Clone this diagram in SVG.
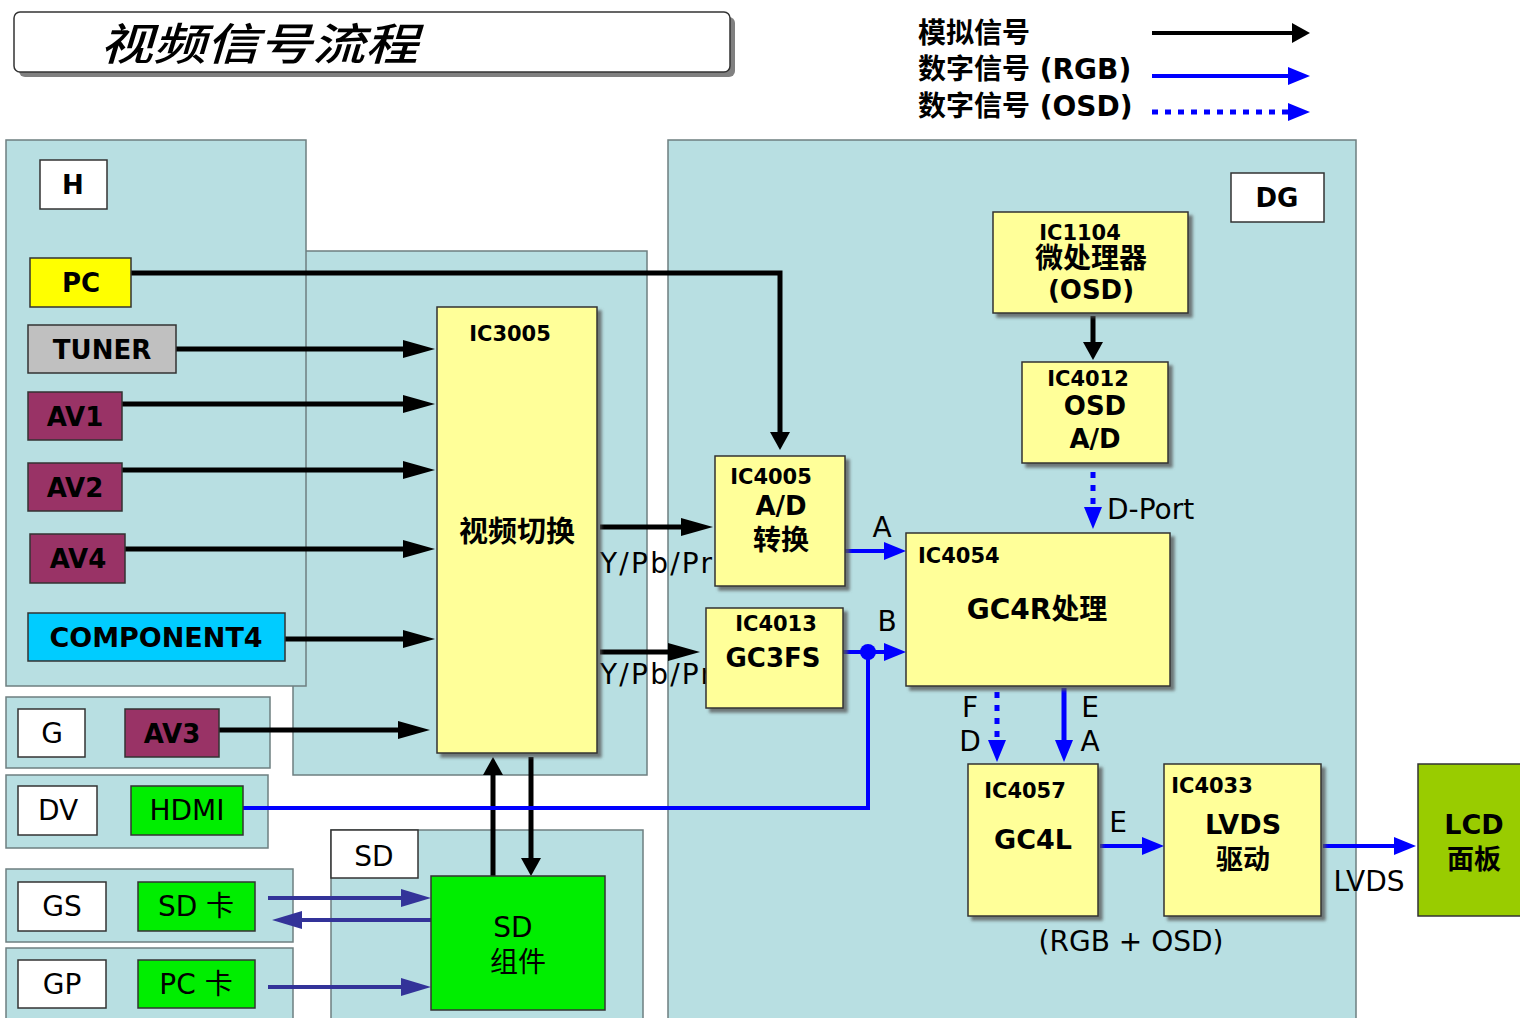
<svg xmlns="http://www.w3.org/2000/svg" width="1520" height="1018" viewBox="0 0 1520 1018">
<style>
.panel{fill:#b8dfe2;stroke:#6e7f80;stroke-width:1.5}
.box{stroke:#333;stroke-width:1.5}
.ic{fill:#ffff99;stroke:#333;stroke-width:1.5;filter:url(#sh)}
.t{font-family:"DejaVu Sans","Noto Sans CJK SC",sans-serif;font-weight:bold;text-anchor:middle;fill:#000;font-size:26px}
.n{font-weight:normal;font-size:28px}
.s{font-size:21px}
.lk{fill:none;stroke:#000;stroke-width:5}
.lb{fill:none;stroke:#0000ff;stroke-width:4}
.ld{fill:none;stroke:#0000ff;stroke-width:5;stroke-dasharray:6 7}
.ls{fill:none;stroke:#333399;stroke-width:4}
</style>
<defs>
<filter id="sh" x="-10%" y="-10%" width="130%" height="130%"><feDropShadow dx="4" dy="4" stdDeviation="1.5" flood-color="#555" flood-opacity="0.75"/></filter>
<marker id="mkL" markerUnits="userSpaceOnUse" markerWidth="32" markerHeight="18" refX="12" refY="9" orient="auto"><path d="M0,0 L32,9 L0,18 z" fill="#000"/></marker>
<marker id="mkS" markerUnits="userSpaceOnUse" markerWidth="18" markerHeight="20" refX="8" refY="10" orient="auto"><path d="M0,0 L18,10 L0,20 z" fill="#000"/></marker>
<marker id="mbl" markerUnits="userSpaceOnUse" markerWidth="22" markerHeight="18" refX="8" refY="9" orient="auto"><path d="M0,0 L22,9 L0,18 z" fill="#0000ff"/></marker>
<marker id="msd" markerUnits="userSpaceOnUse" markerWidth="30" markerHeight="18" refX="10" refY="9" orient="auto"><path d="M0,0 L30,9 L0,18 z" fill="#333399"/></marker>
</defs>
<rect width="1520" height="1018" fill="#fff"/>

<g id="title">
<rect x="19" y="17" width="716" height="60" rx="6" fill="#808080"/>
<rect x="14" y="12" width="716" height="60" rx="6" fill="#fff" stroke="#333" stroke-width="1.5"/>
<text x="100" y="60" font-family="Noto Sans CJK SC,sans-serif" font-size="44" font-weight="500" font-style="italic" textLength="318" lengthAdjust="spacingAndGlyphs">视频信号流程</text>
</g>

<g id="legend">
<text class="t" x="918" y="43" style="text-anchor:start;font-size:28px">模拟信号</text>
<text class="t" x="918" y="79" style="text-anchor:start;font-size:28px">数字信号 (RGB)</text>
<text class="t" x="918" y="116" style="text-anchor:start;font-size:28px">数字信号 (OSD)</text>
<path class="lk" d="M1152,33 H1300" style="stroke-width:4" marker-end="url(#mkS)"/>
<path class="lb" d="M1152,76 H1296" marker-end="url(#mbl)"/>
<path class="ld" d="M1152,112 H1296" marker-end="url(#mbl)"/>
</g>

<g id="panel-mid"><rect class="panel" x="293" y="251" width="354" height="524"/></g>
<g id="panel-H"><rect class="panel" x="6" y="140" width="300" height="546"/></g>
<g id="panel-G"><rect class="panel" x="6" y="697" width="264" height="71"/></g>
<g id="panel-DV"><rect class="panel" x="6" y="775" width="262" height="73"/></g>
<g id="panel-GS"><rect class="panel" x="6" y="869" width="287" height="73"/></g>
<g id="panel-GP"><rect class="panel" x="6" y="948" width="287" height="82"/></g>
<g id="panel-SD"><rect class="panel" x="331" y="830" width="312" height="200"/></g>
<g id="panel-DG"><rect class="panel" x="668" y="140" width="688" height="890"/></g>

<g id="connectors">
<path class="lk" d="M131,273 H780 V440" marker-end="url(#mkS)"/>
<path class="lk" d="M176,349 H415" marker-end="url(#mkL)"/>
<path class="lk" d="M122,404 H415" marker-end="url(#mkL)"/>
<path class="lk" d="M122,470 H415" marker-end="url(#mkL)"/>
<path class="lk" d="M125,549 H415" marker-end="url(#mkL)"/>
<path class="lk" d="M285,639 H415" marker-end="url(#mkL)"/>
<path class="lk" d="M219,730 H410" marker-end="url(#mkL)"/>
<path class="lk" d="M600,527 H693" marker-end="url(#mkL)"/>
<path class="lk" d="M600,652 H680" marker-end="url(#mkL)"/>
<path class="lk" d="M493,876 V767" marker-end="url(#mkS)"/>
<path class="lk" d="M531,757 V866" marker-end="url(#mkS)"/>
<path class="lk" d="M1093,316 V350" marker-end="url(#mkS)"/>
<path class="lb" d="M243,808 H868 V652"/>
<path class="lb" d="M845,551 H892" marker-end="url(#mbl)"/>
<path class="lb" d="M843,652 H892" marker-end="url(#mbl)"/>
<circle cx="868" cy="652" r="8" fill="#0000ff"/>
<path class="ld" d="M1093,472 V515" marker-end="url(#mbl)"/>
<path class="ld" d="M997,692 V748" marker-end="url(#mbl)"/>
<path class="lb" d="M1064,688 V748" style="stroke-width:5" marker-end="url(#mbl)"/>
<path class="lb" d="M1100,846 H1150" marker-end="url(#mbl)"/>
<path class="lb" d="M1323,846 H1402" marker-end="url(#mbl)"/>
<path class="ls" d="M268,898 H411" marker-end="url(#msd)"/>
<path class="ls" d="M431,920 H292" marker-end="url(#msd)"/>
<path class="ls" d="M268,987 H411" marker-end="url(#msd)"/>
<text class="t n" x="600" y="573" style="text-anchor:start" textLength="112" lengthAdjust="spacing">Y/Pb/Pr</text>
<text class="t n" x="600" y="684" style="text-anchor:start" textLength="112" lengthAdjust="spacing">Y/Pb/Pr</text>
<text class="t n" x="882" y="537">A</text>
<text class="t n" x="887" y="631">B</text>
<text class="t n" x="1107" y="519" style="text-anchor:start">D-Port</text>
<text class="t n" x="970" y="717">F</text>
<text class="t n" x="970" y="751">D</text>
<text class="t n" x="1090" y="717">E</text>
<text class="t n" x="1090" y="751">A</text>
<text class="t n" x="1118" y="832">E</text>
<text class="t n" x="1369" y="891">LVDS</text>
<text class="t n" x="1131" y="951">(RGB + OSD)</text>
</g>

<g id="H"><rect class="box" x="40" y="160" width="67" height="49" fill="#fff"/><text class="t" x="73" y="194">H</text></g>
<g id="PC"><rect class="box" x="30" y="258" width="101" height="49" fill="#ffff00"/><text class="t" x="81" y="292">PC</text></g>
<g id="TUNER"><rect class="box" x="28" y="325" width="148" height="48" fill="#c0c0c0"/><text class="t" x="102" y="359">TUNER</text></g>
<g id="AV1"><rect class="box" x="28" y="392" width="94" height="48" fill="#993366"/><text class="t" x="75" y="426">AV1</text></g>
<g id="AV2"><rect class="box" x="28" y="463" width="94" height="48" fill="#993366"/><text class="t" x="75" y="497">AV2</text></g>
<g id="AV4"><rect class="box" x="30" y="534" width="95" height="49" fill="#993366"/><text class="t" x="78" y="568">AV4</text></g>
<g id="COMPONENT4"><rect class="box" x="28" y="613" width="257" height="48" fill="#00ccff"/><text class="t" x="156" y="647" style="font-size:27px">COMPONENT4</text></g>
<g id="G"><rect class="box" x="18" y="709" width="67" height="48" fill="#fff"/><text class="t n" x="52" y="743">G</text></g>
<g id="AV3"><rect class="box" x="125" y="709" width="94" height="48" fill="#993366"/><text class="t" x="172" y="743">AV3</text></g>
<g id="DV"><rect class="box" x="18" y="786" width="79" height="49" fill="#fff"/><text class="t n" x="58" y="820">DV</text></g>
<g id="HDMI"><rect class="box" x="131" y="786" width="112" height="49" fill="#00ee00"/><text class="t n" x="187" y="820">HDMI</text></g>
<g id="GS"><rect class="box" x="18" y="882" width="88" height="49" fill="#fff"/><text class="t n" x="62" y="916">GS</text></g>
<g id="SDcard"><rect class="box" x="138" y="882" width="117" height="49" fill="#00ee00"/><text class="t n" x="196" y="916">SD 卡</text></g>
<g id="GP"><rect class="box" x="18" y="960" width="88" height="48" fill="#fff"/><text class="t n" x="62" y="994">GP</text></g>
<g id="PCcard"><rect class="box" x="138" y="960" width="117" height="48" fill="#00ee00"/><text class="t n" x="196" y="994">PC 卡</text></g>
<g id="SDlabel"><rect class="box" x="331" y="830" width="87" height="48" fill="#fff"/><text class="t n" x="374" y="866">SD</text></g>
<g id="SDmodule"><rect class="box" x="431" y="876" width="174" height="134" fill="#00ee00"/><text class="t n" x="513" y="937">SD</text><text class="t n" x="518" y="972">组件</text></g>
<g id="IC3005"><rect class="ic" x="437" y="307" width="160" height="446"/><text class="t s" x="510" y="341">IC3005</text><text class="t" x="517" y="542" style="font-size:29px">视频切换</text></g>
<g id="IC4005"><rect class="ic" x="715" y="456" width="130" height="130"/><text class="t s" x="771" y="484">IC4005</text><text class="t" x="781" y="515">A/D</text><text class="t" x="781" y="550" style="font-size:28px">转换</text></g>
<g id="IC4013"><rect class="ic" x="706" y="608" width="137" height="100"/><text class="t s" x="776" y="631">IC4013</text><text class="t" x="773" y="667">GC3FS</text></g>
<g id="IC1104"><rect class="ic" x="993" y="212" width="195" height="101"/><text class="t s" x="1080" y="240">IC1104</text><text class="t" x="1091" y="268" style="font-size:28px">微处理器</text><text class="t" x="1091" y="299">(OSD)</text></g>
<g id="DG"><rect class="box" x="1231" y="173" width="93" height="49" fill="#fff"/><text class="t" x="1277" y="207">DG</text></g>
<g id="IC4012"><rect class="ic" x="1022" y="362" width="146" height="101"/><text class="t s" x="1088" y="386">IC4012</text><text class="t" x="1095" y="415">OSD</text><text class="t" x="1095" y="448">A/D</text></g>
<g id="IC4054"><rect class="ic" x="906" y="533" width="264" height="153"/><text class="t s" x="918" y="563" style="text-anchor:start">IC4054</text><text class="t" x="1037" y="619" style="font-size:28px">GC4R处理</text></g>
<g id="IC4057"><rect class="ic" x="968" y="764" width="130" height="152"/><text class="t s" x="1025" y="798">IC4057</text><text class="t" x="1033" y="849" style="font-size:27px">GC4L</text></g>
<g id="IC4033"><rect class="ic" x="1164" y="764" width="157" height="152"/><text class="t s" x="1212" y="793">IC4033</text><text class="t" x="1243" y="834" style="font-size:27px">LVDS</text><text class="t" x="1243" y="869" style="font-size:27px">驱动</text></g>
<g id="LCD"><rect class="box" x="1418" y="764" width="106" height="152" fill="#99cc00"/><text class="t" x="1474" y="834" style="font-size:27px">LCD</text><text class="t" x="1474" y="869" style="font-size:27px">面板</text></g>
</svg>
